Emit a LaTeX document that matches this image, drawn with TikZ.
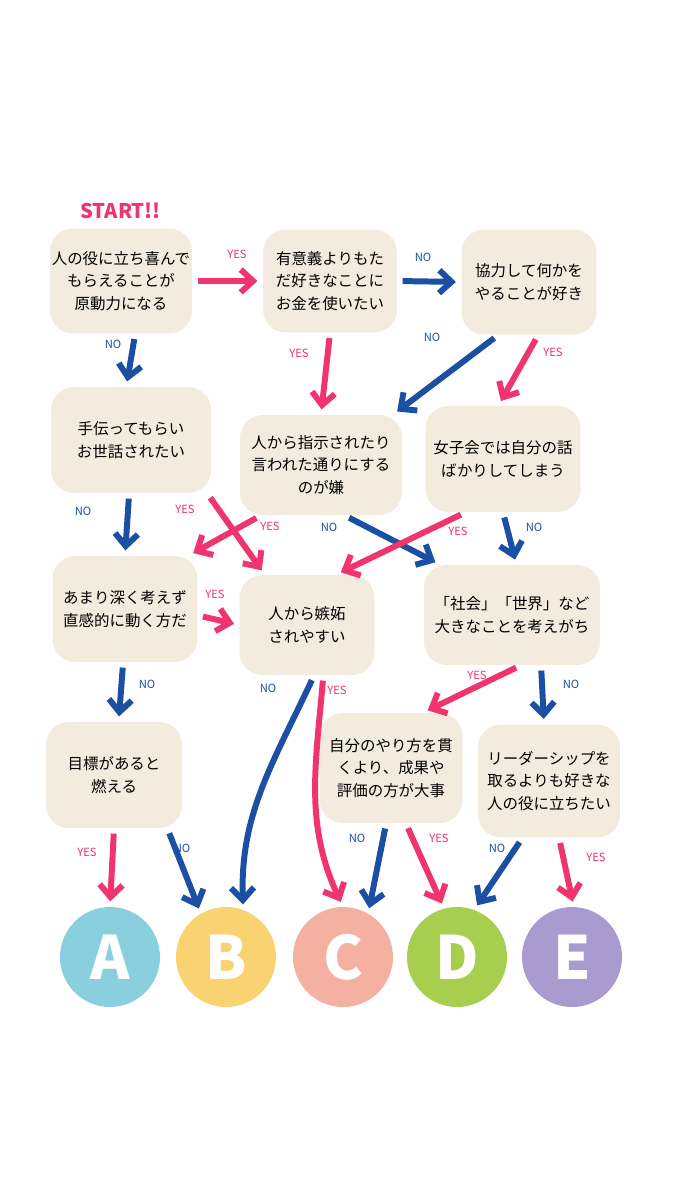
\documentclass[tikz,border=0pt]{standalone}
\usepackage{fontspec}
\setmainfont{Noto Sans CJK JP}
\usetikzlibrary{arrows.meta}
\definecolor{boxc}{HTML}{F3EBDD}
\definecolor{pinkc}{HTML}{F0346E}
\definecolor{bluec}{HTML}{1A4FA3}
\definecolor{ca}{HTML}{8ACFDD}
\definecolor{cb}{HTML}{F9D272}
\definecolor{cc}{HTML}{F4B1A2}
\definecolor{cd}{HTML}{A7CE4E}
\definecolor{ce}{HTML}{A99BCF}
\tikzset{
  q/.style={fill=boxc, rounded corners=13pt, align=center, inner sep=1pt,
    font=\fontsize{8.8}{13}\selectfont},
  yes/.style={draw=pinkc, line width=3.4pt, -{Straight Barb[length=7pt,width=13pt]}, shorten <=3pt, shorten >=3pt},
  no/.style={yes, draw=bluec},
  ly/.style={text=pinkc, font=\fontsize{6.4}{7}\selectfont},
  ln/.style={text=bluec, font=\fontsize{6.4}{7}\selectfont},
  res/.style={circle, minimum size=2.0cm, text=white, font=\bfseries\fontsize{34}{34}\selectfont}
}
\begin{document}
\begin{tikzpicture}[x=0.02cm,y=-0.02cm]
\useasboundingbox (0,0) rectangle (675,1200);
\fill[white] (0,0) rectangle (675,1200);

\node[text=pinkc, font=\bfseries\fontsize{11.5}{12}\selectfont, anchor=west] (start) at (74,211) {START!!};

% questions
\node[q, minimum width=2.36cm, minimum height=2.1cm] (q1) at (121,281) {人の役に立ち喜んで\\もらえることが\\原動力になる};
\node[q, minimum width=2.68cm, minimum height=2.06cm] (q2) at (330,281) {有意義よりもた\\だ好きなことに\\お金を使いたい};
\node[q, minimum width=2.7cm, minimum height=2.1cm] (q3) at (529,282) {協力して何かを\\やることが好き};
\node[q, minimum width=3.2cm, minimum height=2.12cm] (q4) at (131,440) {手伝ってもらい\\お世話されたい};
\node[q, minimum width=3.24cm, minimum height=2.0cm] (q5) at (321,465) {人から指示されたり\\言われた通りにする\\のが嫌};
\node[q, minimum width=3.1cm, minimum height=2.12cm] (q6) at (503,459) {女子会では自分の話\\ばかりしてしまう};
\node[q, minimum width=2.9cm, minimum height=2.12cm] (q7) at (125,609) {あまり深く考えず\\直感的に動く方だ};
\node[q, minimum width=2.7cm, minimum height=2.0cm] (q8) at (307,625) {人から嫉妬\\されやすい};
\node[q, minimum width=3.52cm, minimum height=2.0cm] (q9) at (512,615) {「社会」「世界」など\\大きなことを考えがち};
\node[q, minimum width=2.72cm, minimum height=2.12cm] (q10) at (114,775) {目標があると\\燃える};
\node[q, minimum width=2.86cm, minimum height=2.2cm] (q11) at (391,768) {自分のやり方を貫\\くより、成果や\\評価の方が大事};
\node[q, minimum width=2.84cm, minimum height=2.26cm] (q12) at (549,781) {リーダーシップを\\取るよりも好きな\\人の役に立ちたい};

% results
\node[res, fill=ca] (A) at (110,957) {A};
\node[res, fill=cb] (B) at (226,957) {B};
\node[res, fill=cc] (C) at (343,957) {C};
\node[res, fill=cd] (D) at (457,957) {D};
\node[res, fill=ce] (E) at (572,957) {E};

% arrows
\draw[yes] (q1.east) -- (q2.west);
\draw[no] (q2.east) -- (q3.west);
\draw[no] (q1.-75) -- (q4.95);
\draw[yes] (q2.south) -- (q5.north);
\draw[no] (q3.-120) -- (q5.35);
\draw[yes] (q3.-80) -- (q6.95);
\draw[no] (q4.-92) -- (q7.north);
\draw[yes] (q4.-35) -- (q8.130);
\draw[yes] (q5.-140) -- (q7.40);
\draw[no] (q5.-65) -- (q9.145);
\draw[yes] (q6.-125) -- (q8.60);
\draw[no] (q6.-90) -- (q9.85);
\draw[yes] (q7.-5) -- (q8.180);
\draw[no] (q7.-92) -- (q10.85);
\draw[no] (q8.-82) to[out=-115,in=92] (B.70);
\draw[yes] (q8.-72) to[out=-95,in=115] (C.north);
\draw[yes] (q9.-80) -- (q11.60);
\draw[no] (q9.-60) -- (q12.95);
\draw[yes] (q10.-90) -- (A.north);
\draw[no] (q10.-45) -- (B.120);
\draw[no] (q11.-95) -- (C.60);
\draw[yes] (q11.-75) -- (D.105);
\draw[no] (q12.-115) -- (D.70);
\draw[yes] (q12.-80) -- (E.88);

% labels
\node[ly] (l1) at (237,254) {YES};
\node[ln] (l2) at (423,257) {NO};
\node[ln] (l3) at (113,344) {NO};
\node[ly] (l4) at (299,353) {YES};
\node[ln] (l5) at (432,337) {NO};
\node[ly] (l6) at (553,352) {YES};
\node[ln] (l7) at (83,511) {NO};
\node[ly] (l8) at (185,509) {YES};
\node[ly] (l9) at (270,526) {YES};
\node[ln] (l10) at (329,527) {NO};
\node[ly] (l11) at (458,531) {YES};
\node[ln] (l12) at (534,527) {NO};
\node[ly] (l13) at (215,594) {YES};
\node[ln] (l14) at (147,684) {NO};
\node[ln] (l15) at (268,688) {NO};
\node[ly] (l16) at (337,690) {YES};
\node[ly] (l17) at (477,675) {YES};
\node[ln] (l18) at (571,684) {NO};
\node[ly] (l19) at (87,852) {YES};
\node[ln] (l20) at (182,848) {NO};
\node[ln] (l21) at (357,838) {NO};
\node[ly] (l22) at (439,838) {YES};
\node[ln] (l23) at (497,848) {NO};
\node[ly] (l24) at (596,857) {YES};
\end{tikzpicture}
\end{document}
